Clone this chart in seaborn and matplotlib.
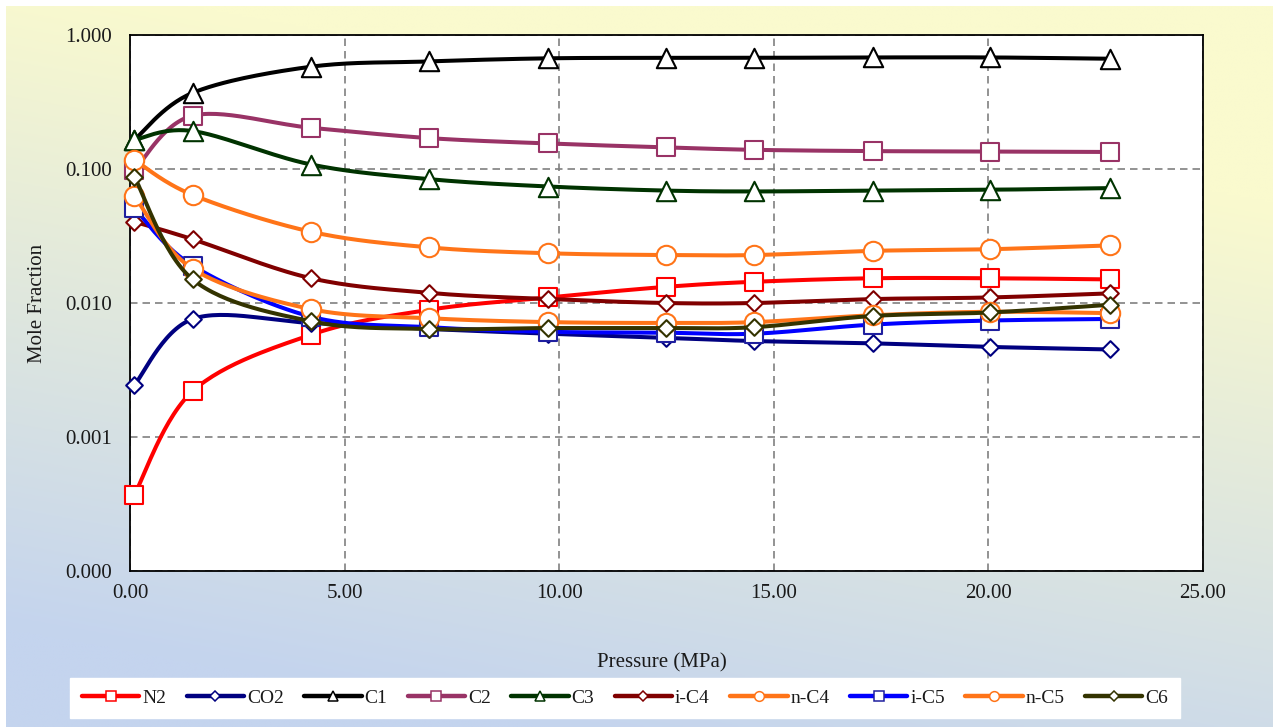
import numpy as np
import matplotlib
matplotlib.use("Agg")
import matplotlib.pyplot as plt
from matplotlib.lines import Line2D
from matplotlib.ticker import FixedLocator, FuncFormatter, NullLocator
import seaborn as sns

# Pressure steps (MPa)
pressure = [0.10, 1.46, 4.22, 6.97, 9.75, 12.49, 14.55, 17.30, 20.04, 22.83]

# Vapour-phase mole fractions per component
n2 = [0.00037, 0.0022, 0.0058, 0.0089, 0.0110, 0.0132, 0.0144, 0.0153, 0.0153, 0.0150]
co2 = [0.00244, 0.0076, 0.0071, 0.0064, 0.0059, 0.0055, 0.0052, 0.0050, 0.0047, 0.0045]
c1 = [0.165, 0.37, 0.58, 0.635, 0.67, 0.675, 0.675, 0.68, 0.68, 0.665]
c2 = [0.098, 0.25, 0.203, 0.170, 0.155, 0.145, 0.139, 0.136, 0.135, 0.134]
c3 = [0.165, 0.192, 0.108, 0.084, 0.074, 0.069, 0.068, 0.069, 0.070, 0.072]
ic4 = [0.0404, 0.0299, 0.0153, 0.0119, 0.0107, 0.0100, 0.0100, 0.0107, 0.0110, 0.0118]
nc4 = [0.117, 0.064, 0.034, 0.026, 0.0235, 0.0228, 0.0228, 0.0245, 0.0252, 0.0269]
ic5 = [0.051, 0.019, 0.0079, 0.0066, 0.0061, 0.0060, 0.0059, 0.0069, 0.0074, 0.0076]
nc5 = [0.063, 0.018, 0.0090, 0.0077, 0.0072, 0.0071, 0.0072, 0.0081, 0.0086, 0.0084]
c6 = [0.0876, 0.0150, 0.0073, 0.0064, 0.0065, 0.0065, 0.0066, 0.0080, 0.0085, 0.0097]

components = ["N2", "CO2", "C1", "C2", "C3", "i-C4", "n-C4", "i-C5", "n-C5", "C6"]
series = [n2, co2, c1, c2, c3, ic4, nc4, ic5, nc5, c6]
colors = ["#FF0000", "#000080", "#000000", "#993366", "#003300",
          "#800000", "#FF7418", "#0000FF", "#FF7418", "#333300"]
edge_colors = ["#FF0000", "#000080", "#000000", "#993366", "#003300",
               "#800000", "#FF7418", "#1F1F9F", "#FF7418", "#333300"]
markers = ["s", "D", "^", "s", "^", "D", "o", "s", "o", "D"]
marker_area = {"s": 170, "D": 72, "^": 195, "o": 195}
legend_ms = {"s": 6.5, "D": 4.6, "^": 7.0, "o": 7.0}

x_ticks = [0, 5, 10, 15, 20, 25]
y_ticks = [1e-4, 1e-3, 1e-2, 1e-1, 1.0]

FONT = ["Liberation Serif", "DejaVu Serif"]


def smooth_curve(xs, ys, steps=30):
    """Bezier smoothing through the points, in (x, log10 y) space."""
    px = np.asarray(xs, float)
    py = np.log10(np.asarray(ys, float))
    n = len(px)
    cx, cy = [px[0]], [py[0]]
    t = np.linspace(0, 1, steps + 1)[1:]
    for i in range(n - 1):
        a = max(i - 1, 0)
        b = min(i + 2, n - 1)
        c1x = px[i] + (px[i + 1] - px[a]) / 6
        c1y = py[i] + (py[i + 1] - py[a]) / 6
        c2x = px[i + 1] - (px[b] - px[i]) / 6
        c2y = py[i + 1] - (py[b] - py[i]) / 6
        w0, w1, w2, w3 = (1 - t) ** 3, 3 * (1 - t) ** 2 * t, 3 * (1 - t) * t ** 2, t ** 3
        cx.extend(w0 * px[i] + w1 * c1x + w2 * c2x + w3 * px[i + 1])
        cy.extend(w0 * py[i] + w1 * c1y + w2 * c2y + w3 * py[i + 1])
    return np.array(cx), 10 ** np.array(cy)


sns.set_theme(style="white")
plt.rcParams["font.family"] = FONT

W, H = 1273, 727
fig = plt.figure(figsize=(W / 100, H / 100), dpi=100, facecolor="white")

# Gradient panel behind the chart
bg = fig.add_axes([6 / W, 0, 1 - 6 / W, 1 - 6 / H], zorder=-10)
gx, gy = np.meshgrid(np.linspace(0, 1, 400), np.linspace(0, 1, 300))
tt = np.clip(1.1 * gy + 0.35 * (1 - gx) - 0.3, 0, 1)[..., None]
top_c = np.array([250, 250, 206]) / 255
bot_c = np.array([196, 212, 238]) / 255
bg.imshow(top_c * (1 - tt) + bot_c * tt, aspect="auto", extent=(0, 1, 1, 0))
bg.set_axis_off()

ax = fig.add_axes([130 / W, 1 - 571 / H, 1073 / W, 536 / H])
ax.set_facecolor("white")
ax.set_yscale("log")
ax.set_xlim(0, 25)
ax.set_ylim(1e-4, 1.0)

for k, (name, vals) in enumerate(zip(components, series)):
    cxs, cys = smooth_curve(pressure, vals)
    sns.lineplot(x=cxs, y=cys, sort=False, estimator=None, color=colors[k],
                 linewidth=2.9, ax=ax, zorder=3 + 2 * k)
    sns.scatterplot(x=pressure, y=vals, marker=markers[k], s=marker_area[markers[k]],
                    color="white", edgecolor=edge_colors[k], linewidth=1.5,
                    ax=ax, zorder=4 + 2 * k, clip_on=False)

ax.xaxis.set_major_locator(FixedLocator(x_ticks))
ax.xaxis.set_major_formatter(FuncFormatter(lambda v, p: f"{v:.2f}"))
ax.yaxis.set_major_locator(FixedLocator(y_ticks))
ax.yaxis.set_major_formatter(FuncFormatter(lambda v, p: f"{v:.3f}"))
ax.yaxis.set_minor_locator(NullLocator())
ax.xaxis.set_minor_locator(NullLocator())

ax.grid(True, which="major", color="#808080", linestyle=(0, (4.5, 3)), linewidth=1.2)
ax.set_axisbelow(True)
for sp in ax.spines.values():
    sp.set_visible(True)
    sp.set_color("black")
    sp.set_linewidth(1.3)
    sp.set_zorder(2.5)

ax.tick_params(axis="both", which="major", direction="out", length=5, width=1.2,
               color="black", labelsize=15, labelcolor="#1a1a1a")
ax.tick_params(axis="y", pad=8)
ax.tick_params(axis="x", pad=4)
for lab in ax.get_xticklabels() + ax.get_yticklabels():
    lab.set_family(FONT)

ax.set_ylabel("Mole Fraction", fontsize=15, color="#1a1a1a")
ax.yaxis.set_label_coords(-0.077, 0.5)
ax.set_xlabel("Pressure (MPa)", fontsize=15, color="#1a1a1a")
ax.xaxis.set_label_coords(0.496, -0.153)

handles = [Line2D([], [], color=colors[k], linewidth=3.2, marker=markers[k],
                  markersize=legend_ms[markers[k]], markerfacecolor="white",
                  markeredgecolor=edge_colors[k], markeredgewidth=1.1)
           for k in range(len(components))]
leg = fig.legend(handles, components, loc="center", ncol=10,
                 bbox_to_anchor=(625 / W, 1 - 698 / H), fontsize=14,
                 frameon=True, fancybox=False, shadow=False, framealpha=1,
                 handlelength=2.95, handletextpad=0.15, columnspacing=1.05,
                 borderpad=0.6, borderaxespad=0)
leg.get_frame().set_facecolor("white")
leg.get_frame().set_edgecolor("white")
for txt in leg.get_texts():
    txt.set_color("#1a1a1a")

fig.savefig("out.png", dpi=100, facecolor=fig.get_facecolor())
